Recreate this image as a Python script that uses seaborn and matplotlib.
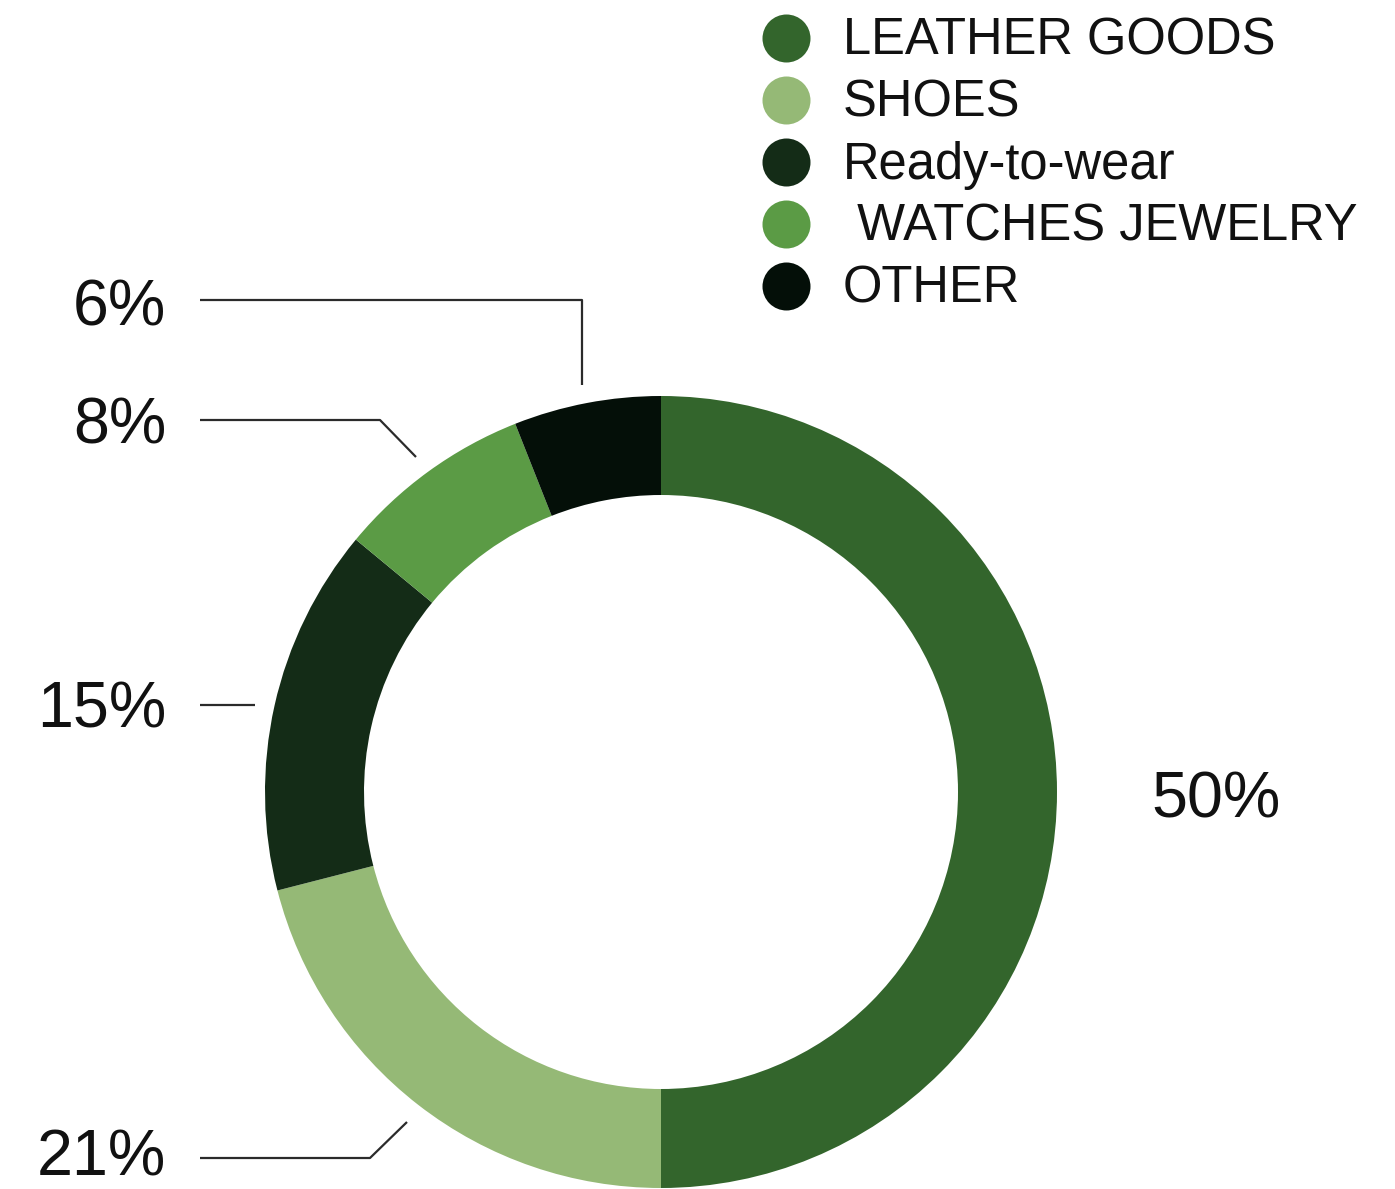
import matplotlib
matplotlib.use("Agg")
import matplotlib.pyplot as plt
import seaborn as sns

# Revenue share by product category
categories = ["LEATHER GOODS", "SHOES", "Ready-to-wear", " WATCHES JEWELRY", "OTHER"]
shares = [50, 21, 15, 8, 6]
pct_labels = ["50%", "21%", "15%", "8%", "6%"]
colors = ["#33652C", "#95B976", "#142C17", "#5B9B45", "#040F08"]

sns.set_theme(style="white")
plt.rcParams["font.family"] = ["Liberation Sans", "DejaVu Sans"]

W, H = 1395, 1189
fig = plt.figure(figsize=(W / 100, H / 100), dpi=100)
ax = fig.add_axes([0, 0, 1, 1])

def py(y):
    # convert top-down pixel row to axis coordinate
    return H - y

cx, cy, R = 661, py(792), 396
ax.pie(shares, colors=colors, startangle=90, counterclock=False,
       center=(cx, cy), radius=R, frame=True,
       wedgeprops=dict(width=99, linewidth=0))
ax.set_xlim(0, W)
ax.set_ylim(0, H)
ax.set_aspect("equal")
ax.axis("off")

# Percentage labels with leader lines
label_pos = {
    "50%": (1151, 801, "left"),
    "21%": (166, 1159, "right"),
    "15%": (166, 710, "right"),
    "8%": (166, 426, "right"),
    "6%": (166, 309, "right"),
}
leaders = {
    "21%": [(200, 1158), (370, 1158), (407, 1122)],
    "15%": [(200, 705), (255, 705)],
    "8%": [(200, 420), (380, 420), (416, 457)],
    "6%": [(200, 300), (582, 300), (582, 385)],
}
for lab in pct_labels:
    x, y, ha = label_pos[lab]
    ax.text(x, py(y), lab, fontsize=46.5, ha=ha, va="center", color="#111111")
    if lab in leaders:
        pts = leaders[lab]
        ax.plot([p[0] for p in pts], [py(p[1]) for p in pts],
                color="#2b2b2b", lw=1.6, solid_capstyle="butt")

# Legend
leg_y0, leg_dy = 38, 62
for i, (cat, col) in enumerate(zip(categories, colors)):
    y = py(leg_y0 + i * leg_dy)
    ax.scatter([786], [y], s=(48 * 0.72) ** 2, color=col, linewidths=0)
    ax.text(843, y - 3, cat, fontsize=36.5, ha="left", va="center", color="#111111")

fig.savefig("out.png", dpi=100, facecolor="white")
